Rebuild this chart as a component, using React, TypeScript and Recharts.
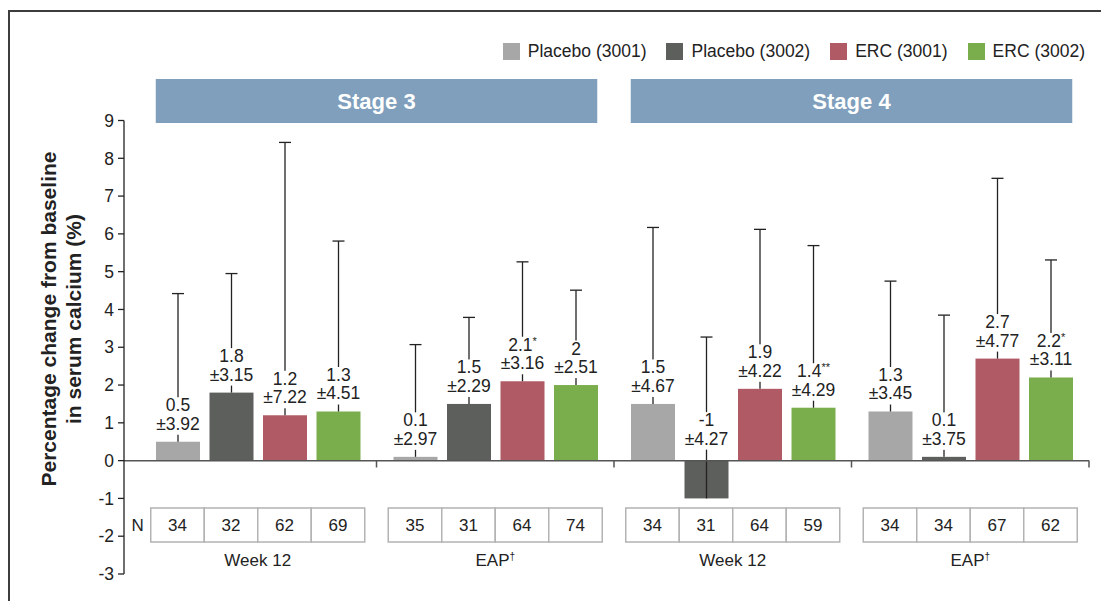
import React from "react";
import { BarChart, Bar, XAxis, YAxis, ReferenceLine, Legend } from "recharts";

const FONT = "'Liberation Sans', Arial, Helvetica, sans-serif";
const INK = "#222222";

// categories
const stages = ["Stage 3", "Stage 3", "Stage 4", "Stage 4"];
const periods = ["Week 12", "EAP", "Week 12", "EAP"];
const periodMarks = ["", "†", "", "†"];

// Placebo (3001)
const placebo3001Mean = [0.5, 0.1, 1.5, 1.3];
const placebo3001Sd = [3.92, 2.97, 4.67, 3.45];
const placebo3001N = [34, 35, 34, 34];
const placebo3001Sig = ["", "", "", ""];

// Placebo (3002)
const placebo3002Mean = [1.8, 1.5, -1, 0.1];
const placebo3002Sd = [3.15, 2.29, 4.27, 3.75];
const placebo3002N = [32, 31, 31, 34];
const placebo3002Sig = ["", "", "", ""];

// ERC (3001)
const erc3001Mean = [1.2, 2.1, 1.9, 2.7];
const erc3001Sd = [7.22, 3.16, 4.22, 4.77];
const erc3001N = [62, 64, 64, 67];
const erc3001Sig = ["", "*", "", ""];

// ERC (3002)
const erc3002Mean = [1.3, 2.0, 1.4, 2.2];
const erc3002Sd = [4.51, 2.51, 4.29, 3.11];
const erc3002N = [69, 74, 59, 62];
const erc3002Sig = ["", "", "**", "*"];

const yTicks = [-3, -2, -1, 0, 1, 2, 3, 4, 5, 6, 7, 8, 9];

type Series = {
  key: string;
  name: string;
  color: string;
  mean: number[];
  sd: number[];
  n: number[];
  sig: string[];
};

const SERIES: Series[] = [
  { key: "p3001", name: "Placebo (3001)", color: "#a6a7a6", mean: placebo3001Mean, sd: placebo3001Sd, n: placebo3001N, sig: placebo3001Sig },
  { key: "p3002", name: "Placebo (3002)", color: "#5d5f5c", mean: placebo3002Mean, sd: placebo3002Sd, n: placebo3002N, sig: placebo3002Sig },
  { key: "e3001", name: "ERC (3001)", color: "#b05a65", mean: erc3001Mean, sd: erc3001Sd, n: erc3001N, sig: erc3001Sig },
  { key: "e3002", name: "ERC (3002)", color: "#7aad4c", mean: erc3002Mean, sd: erc3002Sd, n: erc3002N, sig: erc3002Sig },
];

const rows = stages.map((st, i) => {
  const row: Record<string, any> = { key: `${st} ${periods[i]}` };
  SERIES.forEach((s) => (row[s.key] = s.mean[i]));
  return row;
});

// layout (svg coords)
const W = 1093;
const H = 593;
const ZERO_Y = 452.5;
const BAND = 237.5;
const CELL = 53.5;
const TABLE_TOP = 500;
const TABLE_H = 34;

// bar + one-sided error bar + value label
const makeShape = (s: Series) => (props: any) => {
  const { x, y, width, height } = props;
  const idx = props.index ?? rows.findIndex((r) => r.key === props.payload?.key);
  const v = s.mean[idx];
  const sd = s.sd[idx];
  const unit = Math.abs(height / v);
  const top = Math.min(y, y + height);
  const bottom = Math.max(y, y + height);
  const meanY = v >= 0 ? top : bottom;
  const errY = meanY - sd * unit;
  const cx = x + width / 2;
  const line2 = top - (v >= 0 ? 12 : 16);
  const line1 = line2 - 18.5;
  return (
    <g>
      <rect x={x} y={top} width={width} height={bottom - top} fill={s.color} />
      <line x1={cx} x2={cx} y1={meanY} y2={errY} stroke={INK} strokeWidth={1.3} />
      <line x1={cx - 6} x2={cx + 6} y1={errY} y2={errY} stroke={INK} strokeWidth={1.3} />
      <rect x={cx - 25} y={line1 - 14} width={50} height={line2 - line1 + 19} fill="#fff" />
      <text x={cx} y={line1} textAnchor="middle" fontSize={17.5} fill={INK} fontFamily={FONT}>
        {String(v)}
        {s.sig[idx] ? (
          <tspan fontSize={11} dy={-6}>
            {s.sig[idx]}
          </tspan>
        ) : null}
      </text>
      <text x={cx} y={line2} textAnchor="middle" fontSize={17.5} fill={INK} fontFamily={FONT}>
        {`±${s.sd[idx].toFixed(2)}`}
      </text>
    </g>
  );
};

// boundary tick, N table, period label, stage header
function GroupTick(props: any) {
  const { x } = props;
  const i = props.index ?? props.payload?.index ?? 0;
  const left = x - 2 * CELL;
  return (
    <g fontFamily={FONT}>
      <line x1={x + BAND / 2} x2={x + BAND / 2} y1={ZERO_Y} y2={ZERO_Y + 7} stroke="#555" strokeWidth={1.5} />
      {SERIES.map((s, k) => (
        <g key={s.key}>
          <rect
            x={left + k * CELL}
            y={TABLE_TOP}
            width={CELL}
            height={TABLE_H}
            fill="#fff"
            stroke="#b3b3b3"
            strokeWidth={1.5}
          />
          <text x={left + k * CELL + CELL / 2} y={TABLE_TOP + 23} textAnchor="middle" fontSize={17} fill={INK}>
            {s.n[i]}
          </text>
        </g>
      ))}
      {i === 0 ? (
        <text x={left - 13} y={TABLE_TOP + 23} textAnchor="middle" fontSize={17} fill={INK}>
          N
        </text>
      ) : null}
      <text x={x} y={558} textAnchor="middle" fontSize={17} fill={INK}>
        {periods[i]}
        {periodMarks[i] ? (
          <tspan fontSize={10} dy={-6}>
            {periodMarks[i]}
          </tspan>
        ) : null}
      </text>
      {i % 2 === 0 ? (
        <g>
          <rect x={x - 102} y={71} width={BAND + 204} height={44} fill="#7f9fbd" />
          <text
            x={x + BAND / 2}
            y={101}
            textAnchor="middle"
            fontSize={22}
            fontWeight="bold"
            fill="#fff"
          >
            {stages[i]}
          </text>
        </g>
      ) : null}
    </g>
  );
}

function LegendRow(props: any) {
  const payload: any[] = props.payload || [];
  const items = SERIES.map((s) => {
    const p = payload.find((q) => q.value === s.name);
    return { name: s.name, color: p?.color ?? s.color };
  });
  return (
    <div style={{ display: "flex", gap: 20, fontFamily: FONT, fontSize: 17.5, color: INK }}>
      {items.map((it) => (
        <div key={it.name} style={{ display: "flex", alignItems: "center", height: 17 }}>
          <span style={{ width: 17, height: 17, background: it.color, marginRight: 8, display: "inline-block" }} />
          <span style={{ lineHeight: "17px", whiteSpace: "nowrap" }}>{it.name}</span>
        </div>
      ))}
    </div>
  );
}

function YTitle() {
  return (
    <text
      transform="translate(47.5,311) rotate(-90)"
      textAnchor="middle"
      fontFamily={FONT}
      fontWeight="bold"
      fontSize={21}
      fill={INK}
    >
      <tspan x={0} y={0}>
        Percentage change from baseline
      </tspan>
      <tspan x={0} y={25.5}>
        in serum calcium (%)
      </tspan>
    </text>
  );
}

export default function App() {
  return (
    <div style={{ position: "relative", width: W, height: H, overflow: "hidden", background: "#fff" }}>
      <div
        style={{
          position: "absolute",
          left: 0,
          top: 2,
          width: 1300,
          height: 800,
          border: "2px solid #3d3d3d",
        }}
      />
      <BarChart
        width={W}
        height={H}
        data={rows}
        margin={{ top: 112.5, right: 12, bottom: 0, left: 0 }}
        barGap={9.5}
        barCategoryGap={16.5}
        style={{ position: "relative" }}
      >
        <XAxis
          dataKey="key"
          height={27}
          axisLine={false}
          tickLine={false}
          interval={0}
          padding={{ left: 15, right: 0 }}
          tick={<GroupTick />}
        />
        <YAxis
          type="number"
          domain={[-3, 9]}
          ticks={yTicks}
          interval={0}
          width={116}
          tickSize={6}
          tickMargin={4}
          axisLine={{ stroke: INK, strokeWidth: 1.3 }}
          tickLine={{ stroke: INK, strokeWidth: 1.3 }}
          tick={{ fontSize: 17.5, fill: INK, fontFamily: FONT }}
          label={<YTitle />}
        />
        <ReferenceLine y={0} stroke="#555" strokeWidth={1.5} />
        <Legend
          verticalAlign="middle"
          align="center"
          wrapperStyle={{ top: 35, right: 16, left: "auto", width: "auto", height: "auto" }}
          content={<LegendRow />}
        />
        {SERIES.map((s) => (
          <Bar
            key={s.key}
            dataKey={s.key}
            name={s.name}
            fill={s.color}
            barSize={44}
            isAnimationActive={false}
            shape={makeShape(s)}
          />
        ))}
      </BarChart>
    </div>
  );
}
